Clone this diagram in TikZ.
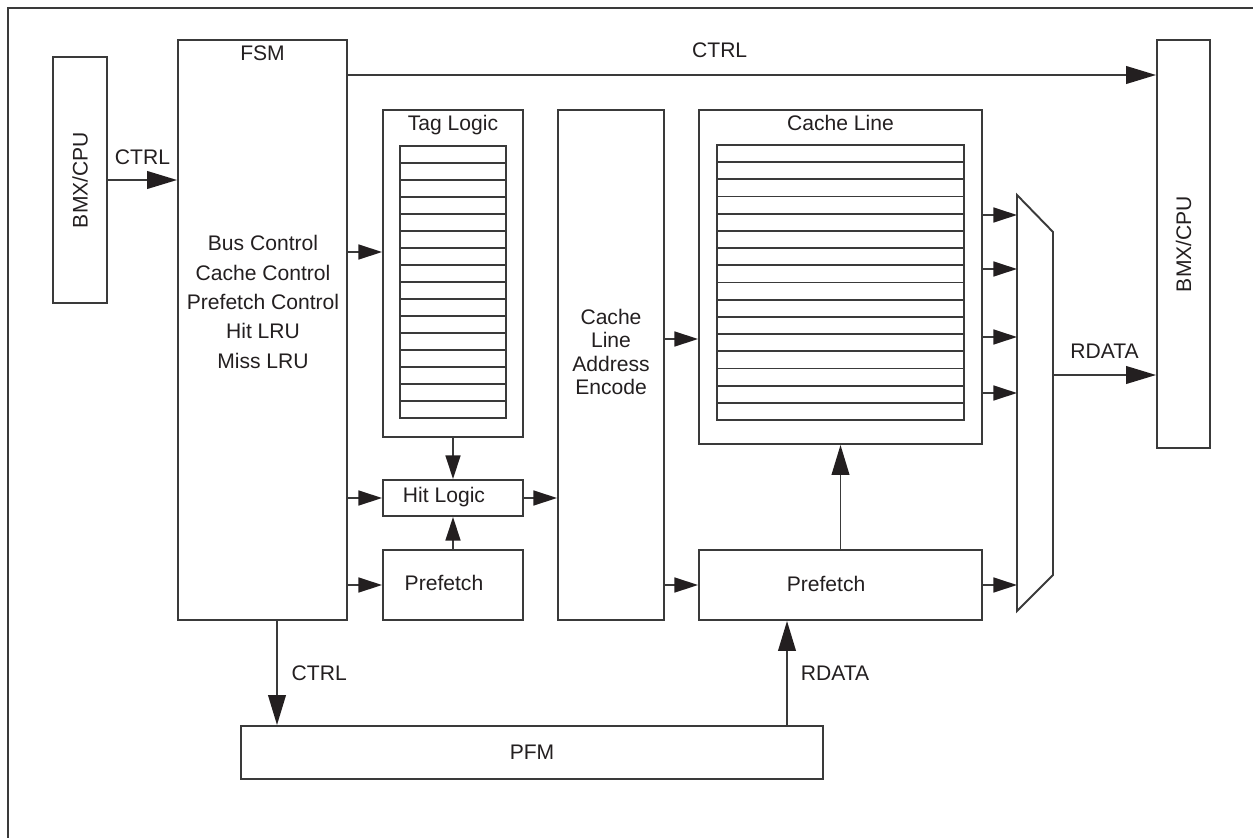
\documentclass[tikz,border=0pt]{standalone}
\usepackage{fontspec}
\setmainfont{Liberation Sans}
\usetikzlibrary{arrows.meta, positioning}
\definecolor{ink}{RGB}{35,31,32}
\definecolor{edge}{RGB}{58,58,58}

\begin{document}
\begin{tikzpicture}[
  x=0.02cm, y=-0.02cm,
  every node/.style={font=\fontsize{12}{14.4}\selectfont, text=ink, align=center},
  box/.style={draw=edge, line width=1.1pt, inner sep=0pt},
  grid/.style={draw=edge, line width=1pt},
  wire/.style={draw=edge, line width=1.1pt, -{Triangle[length=13.5pt,width=8.5pt,fill=ink,color=ink]}},
  bus/.style={draw=edge, line width=1.1pt, -{Triangle[length=17pt,width=10pt,fill=ink,color=ink]}}
]
\useasboundingbox (0,0) rectangle (1253,838);
\draw[edge, line width=1.4pt] (1253,8) -- (8,8) -- (8,838);

\node[box, minimum width=1.08cm, minimum height=4.92cm] (cpuin) at (80,180) {};
\node[rotate=90] (cpuintext) at (cpuin) {BMX/CPU};
\node[box, minimum width=1.06cm, minimum height=8.16cm] (cpuout) at (1183.5,244) {};
\node[rotate=90] (cpuouttext) at (cpuout) {BMX/CPU};

\node[box, minimum width=3.38cm, minimum height=11.6cm] (fsm) at (262.5,330) {};
\node[below=0pt of fsm.north] (fsmname) {FSM};
\node[font=\fontsize{12}{16.7}\selectfont] (fsmtext) at (263,302)
  {Bus Control\\Cache Control\\Prefetch Control\\Hit LRU\\Miss LRU};

\node[box, minimum width=2.8cm, minimum height=6.54cm] (tag) at (453,273.5) {};
\node[below=0pt of tag.north] (tagname) {Tag Logic};
\draw[grid] (400,146) rectangle (506,418);
\foreach \k in {1,...,15} \draw[grid] (400,146+17*\k) -- (506,146+17*\k);
\node[box, minimum width=2.8cm, minimum height=0.72cm] (hit) at (453,498) {};
\node (hittext) at (444,497) {Hit Logic};
\node[box, minimum width=2.8cm, minimum height=1.4cm] (pref) at (453,585) {};
\node (preftext) at (444,583) {Prefetch};

\node[box, minimum width=2.12cm, minimum height=10.2cm] (enc) at (611,365) {};
\node[font=\fontsize{12}{13.3}\selectfont] (enctext) at (611,352) {Cache\\Line\\Address\\Encode};

\node[box, minimum width=5.66cm, minimum height=6.68cm] (cline) at (840.5,277) {};
\node[below=0pt of cline.north] (clname) {Cache Line};
\draw[grid] (717,145) rectangle (964,420);
\foreach \k in {1,...,15} \draw[grid] (717,145+17.1875*\k) -- (964,145+17.1875*\k);
\node[box, minimum width=5.66cm, minimum height=1.4cm] (pfetch) at (840.5,585) {};
\node (pfetchtext) at (826,584) {Prefetch};

\node[box, minimum width=11.64cm, minimum height=1.06cm] (pfm) at (532,752.5) {PFM};

\coordinate (mux1) at (1017,195);
\coordinate (mux2) at (1053,232);
\coordinate (mux3) at (1053,575);
\coordinate (mux4) at (1017,611);
\draw[edge, line width=1.1pt] (mux1) -- (mux2) -- (mux3) -- (mux4) -- cycle;

\draw[bus] (cpuin) -- (cpuin -| fsm.west) node[midway, above=5pt] (ctrlin) {CTRL};
\draw[bus] (fsm.east |- 0,75) -- (cpuout.west |- 0,75) node[pos=0.46, above=6pt] (ctrlout) {CTRL};
\draw[wire] (fsm.east |- 0,252) -- (tag.west |- 0,252);
\draw[wire] (fsm.east |- hit) -- (hit.west);
\draw[wire] (fsm.east |- pref) -- (pref.west);
\draw[wire] (tag.south) -- (hit.north);
\draw[wire] (pref.north) -- (hit.south);
\draw[wire] (hit.east) -- (hit -| enc.west);
\draw[wire] (enc.east |- 0,339) -- (cline.west |- 0,339);
\draw[wire] (enc.east |- pfetch) -- (pfetch.west);
\draw[bus] (pfetch.north) -- (cline.south);
\foreach \y in {215,269,337,393} \draw[wire] (cline.east |- 0,\y) -- (mux1 |- 0,\y);
\draw[wire] (pfetch.east) -- (pfetch -| mux1);
\draw[bus] (mux2 |- 0,375) -- (cpuout.west |- 0,375) node[midway, above=5.5pt] (rdataout) {RDATA};
\draw[bus] (pfm.north -| 787,0) -- (pfetch.south -| 787,0) node[midway, right=4pt] (rdataup) {RDATA};
\draw[bus] (fsm.south -| 277,0) -- (pfm.north -| 277,0) node[midway, right=4.5pt] (ctrldown) {CTRL};
\end{tikzpicture}
\end{document}
